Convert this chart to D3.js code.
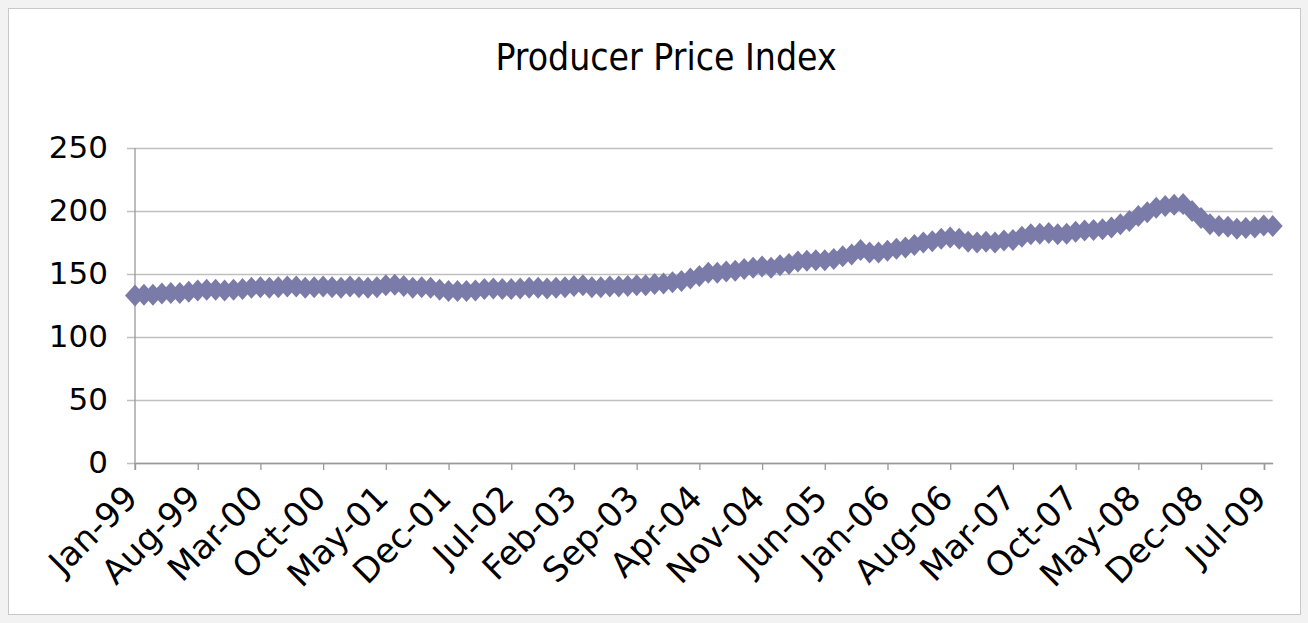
<!DOCTYPE html>
<html>
<head>
<meta charset="utf-8">
<script src="https://cdn.jsdelivr.net/npm/d3@7"></script>
<style>
  body { margin: 0; background: #f2f2f2; }
  svg { display: block; }
</style>
</head>
<body>
<script>
var w = 1308;
var h = 623;

// monthly labels, Jan-99 .. Aug-09
var monthNames = ["Jan","Feb","Mar","Apr","May","Jun","Jul","Aug","Sep","Oct","Nov","Dec"];
var months = [];
for (var i = 0; i < 128; i++) {
  var yy = (99 + Math.floor(i / 12)) % 100;
  months.push(monthNames[i % 12] + "-" + (yy < 10 ? "0" + yy : "" + yy));
}

// values
var ppi = [
  133, 133.5, 133.5, 134.5, 135, 135, 136, 137, 137.5, 137.5, 137, 137.5,
  138, 139, 139.5, 139, 139.5, 140, 140, 139, 139.5, 140, 139.5, 139,
  140, 139.5, 139, 139.5, 141, 141.5, 140.5, 139, 139.5, 139, 137.5, 136.5,
  136.5, 136.5, 137, 138, 138.5, 138, 138, 138.5, 139, 139, 138.5, 139,
  139.5, 140.5, 141, 139.5, 139.5, 140, 140, 140.5, 141, 141, 142, 142.5,
  143.5, 144.5, 146.5, 148.5, 151, 151, 152, 152.5, 154, 155, 156, 155,
  157, 158, 160, 160.5, 161, 161, 162, 164, 165.5, 169, 167, 167,
  168.5, 170, 171, 173, 175, 176, 178, 179, 178, 175.5, 175, 175.5,
  175, 176.5, 177, 179.5, 181.5, 182, 182.5, 181.5, 182, 183.5, 184.5, 185,
  185.5, 187, 189.5, 192, 196, 199, 202.5, 204, 205, 205.5, 200, 194.5,
  189.5, 188, 187.5, 186, 186.5, 187, 188.5, 188
];

var yTicks = [0, 50, 100, 150, 200, 250];
var xTickLabels = months.filter(function(d, i) { return i % 7 === 0; });

var svg = d3.select("body").append("svg")
            .attr("width", w)
            .attr("height", h);

// chart frame
svg.append("rect")
   .attr("x", 8.5)
   .attr("y", 8.5)
   .attr("width", 1292)
   .attr("height", 606)
   .attr("fill", "white")
   .attr("stroke", "#c8c8c8");

var pLeft = 135, pRight = 1272.7, pTop = 148, pBottom = 463;
var font = "'DejaVu Sans', sans-serif";

var x = d3.scalePoint()
          .domain(months)
          .range([pLeft, pRight]);

var y = d3.scaleLinear()
          .domain([0, 250])
          .range([pBottom, pTop]);

// title
svg.append("text")
   .attr("x", 666)
   .attr("y", 70)
   .attr("text-anchor", "middle")
   .attr("font-family", "'DejaVu Sans Condensed', 'DejaVu Sans', sans-serif")
   .attr("font-size", "37px")
   .attr("fill", "black")
   .text("Producer Price Index");

// gridlines + y axis
var yAxis = d3.axisLeft(y)
              .tickValues(yTicks)
              .tickSize(-(pRight - pLeft))
              .tickPadding(27);
var gy = svg.append("g")
            .attr("transform", "translate(" + pLeft + ",0)")
            .call(yAxis);
gy.select(".domain").remove();
gy.selectAll(".tick line")
  .attr("stroke", "#c0c0c0")
  .attr("stroke-width", 1.3)
  .attr("x1", -8);
gy.selectAll(".tick text")
  .attr("font-family", font)
  .attr("font-size", "31px")
  .attr("fill", "black");

// x axis
var xAxis = d3.axisBottom(x)
              .tickValues(xTickLabels)
              .tickSize(7)
              .tickSizeOuter(0);
var gx = svg.append("g")
            .attr("transform", "translate(0," + pBottom + ")")
            .call(xAxis);
gx.select(".domain").attr("stroke", "#999").attr("stroke-width", 1.3);
gx.selectAll(".tick line").attr("stroke", "#999").attr("stroke-width", 1.3);
gx.selectAll(".tick text")
  .attr("font-family", font)
  .attr("font-size", "34px")
  .attr("fill", "black")
  .attr("text-anchor", "end")
  .attr("dy", 0)
  .attr("transform", "translate(-3,30) rotate(-45)");

// closing tick at the end of the category axis
svg.append("line")
   .attr("x1", pRight - 8).attr("x2", pRight - 8)
   .attr("y1", pBottom).attr("y2", pBottom + 7)
   .attr("stroke", "#999").attr("stroke-width", 1.3);

// vertical axis line
svg.append("line")
   .attr("x1", pLeft).attr("x2", pLeft)
   .attr("y1", pTop).attr("y2", pBottom + 7)
   .attr("stroke", "#999")
   .attr("stroke-width", 1.3);

var col = "#7b7baa";

var line = d3.line()
             .x(function(d, i) { return x(months[i]); })
             .y(function(d) { return y(d); });

svg.append("path")
   .datum(ppi)
   .attr("d", line)
   .attr("fill", "none")
   .attr("stroke", col)
   .attr("stroke-width", 4);

var diamond = "M0,-11L10,0L0,11L-10,0Z";
svg.selectAll(".pt")
   .data(ppi)
   .enter().append("path")
   .attr("class", "pt")
   .attr("d", diamond)
   .attr("transform", function(d, i) { return "translate(" + x(months[i]) + "," + y(d) + ")"; })
   .attr("fill", col);
</script>
</body>
</html>
